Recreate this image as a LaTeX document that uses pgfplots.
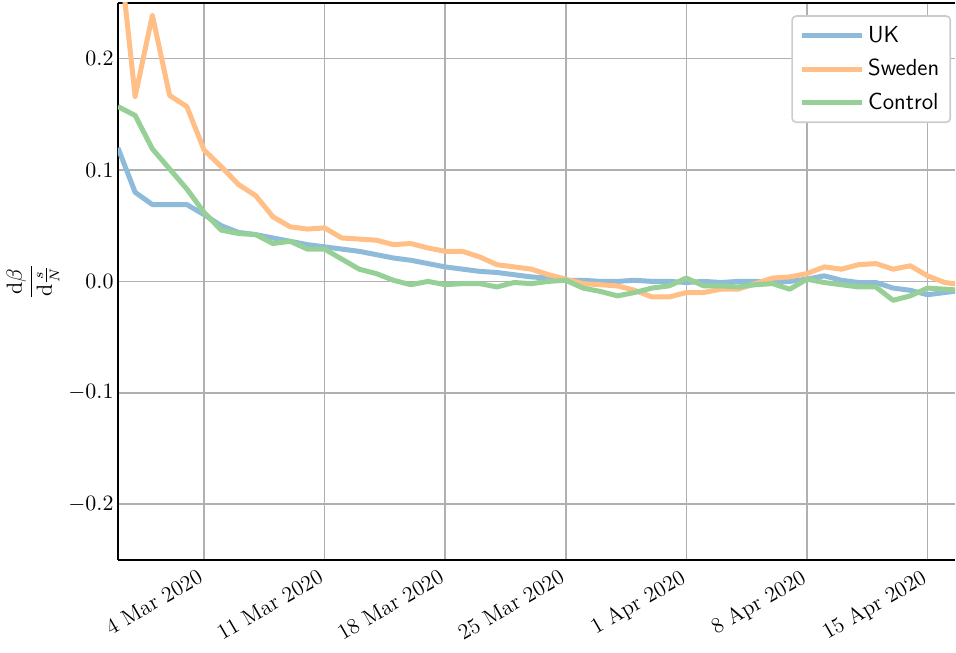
\documentclass[border=0pt]{standalone}
\usepackage{pgfplots}
\pgfplotsset{compat=1.18}
\definecolor{ukc}{RGB}{143,187,218}
\definecolor{swc}{RGB}{255,191,135}
\definecolor{ctc}{RGB}{150,208,150}

\pgfplotstableread{
d v
-5 0.120
-4 0.080
-3 0.069
-2 0.069
-1 0.069
0 0.060
1 0.050
2 0.044
3 0.042
4 0.039
5 0.036
6 0.033
7 0.031
8 0.029
9 0.027
10 0.024
11 0.021
12 0.019
13 0.016
14 0.013
15 0.011
16 0.009
17 0.008
18 0.006
19 0.004
20 0.003
21 0.001
22 0.001
23 0.000
24 0.000
25 0.001
26 0.000
27 0.000
28 -0.001
29 0.000
30 -0.001
31 0.000
32 0.000
33 -0.001
34 0.000
35 0.002
36 0.005
37 0.001
38 -0.001
39 -0.001
40 -0.006
41 -0.008
42 -0.012
43 -0.010
44 -0.008
}\uk

\pgfplotstableread{
d v
-5 0.310
-4 0.166
-3 0.239
-2 0.167
-1 0.157
0 0.118
1 0.103
2 0.087
3 0.077
4 0.058
5 0.049
6 0.047
7 0.048
8 0.039
9 0.038
10 0.037
11 0.033
12 0.034
13 0.030
14 0.027
15 0.027
16 0.022
17 0.015
18 0.013
19 0.011
20 0.006
21 0.002
22 -0.002
23 -0.003
24 -0.004
25 -0.008
26 -0.014
27 -0.014
28 -0.010
29 -0.010
30 -0.007
31 -0.007
32 -0.002
33 0.003
34 0.004
35 0.007
36 0.013
37 0.011
38 0.015
39 0.016
40 0.011
41 0.014
42 0.005
43 -0.001
44 -0.003
}\sweden

\pgfplotstableread{
d v
-5 0.157
-4 0.149
-3 0.119
-2 0.101
-1 0.083
0 0.062
1 0.046
2 0.043
3 0.042
4 0.034
5 0.036
6 0.029
7 0.029
8 0.020
9 0.011
10 0.007
11 0.001
12 -0.003
13 0.000
14 -0.003
15 -0.002
16 -0.002
17 -0.005
18 -0.001
19 -0.002
20 0.000
21 0.001
22 -0.006
23 -0.009
24 -0.013
25 -0.010
26 -0.006
27 -0.004
28 0.003
29 -0.004
30 -0.004
31 -0.005
32 -0.003
33 -0.002
34 -0.007
35 0.002
36 -0.001
37 -0.003
38 -0.005
39 -0.005
40 -0.017
41 -0.013
42 -0.006
43 -0.007
44 -0.008
}\control

\begin{document}
\begin{tikzpicture}
\begin{axis}[
  name=main,
  scale only axis,
  width=418pt, height=278pt,
  xmin=-5, xmax=43.6,
  ymin=-0.25, ymax=0.25,
  axis x line*=box, axis y line*=left,
  axis line style={line width=0.9pt, black},
  xtick={0,7,14,21,28,35,42},
  xticklabels={4 Mar 2020, 11 Mar 2020, 18 Mar 2020, 25 Mar 2020, 1 Apr 2020, 8 Apr 2020, 15 Apr 2020},
  ytick={-0.2,-0.1,0,0.1,0.2},
  every tick label/.append style={font=\fontsize{11.2}{13}\selectfont},
  xticklabel style={yshift=0.5pt, xshift=-2.5pt, rotate=30, anchor=north east, font=\fontsize{11}{13}\selectfont},
  yticklabel style={inner xsep=2pt, /pgf/number format/.cd, fixed, fixed zerofill, precision=1},
  major tick length=0pt,
  tick style={draw=none},
  grid=major,
  grid style={color=black!31, line width=0.8pt},
  ylabel={$\displaystyle\frac{\mathrm{d}\beta}{\mathrm{d}\frac{s}{N}}$},
  ylabel style={font=\fontsize{10.5}{12}\selectfont},
  ylabel shift=-1pt,
  clip=true,
  legend style={at={(0.9952,0.978)}, anchor=north east, draw=black!20, line width=0.8pt,
    rounded corners=2pt, fill=white,
    font=\sffamily\fontsize{11.6}{13}\selectfont,
    inner xsep=3.5pt, inner ysep=3pt,
    row sep=3pt},
  legend cell align=left,
  legend image code/.code={\draw[#1, line width=2.5pt] (0pt,0pt) -- (26pt,0pt); \path (0pt,0pt) -- (30pt,0pt);},
]
\addplot[ukc, line width=2.5pt, line join=round] table[x=d,y=v] {\uk};
\addlegendentry{UK}
\addplot[swc, line width=2.5pt, line join=round] table[x=d,y=v] {\sweden};
\addlegendentry{Sweden}
\addplot[ctc, line width=2.5pt, line join=round] table[x=d,y=v] {\control};
\addlegendentry{Control}
\end{axis}
\path (main.north) ++(0,1.5pt);
\end{tikzpicture}
\end{document}
